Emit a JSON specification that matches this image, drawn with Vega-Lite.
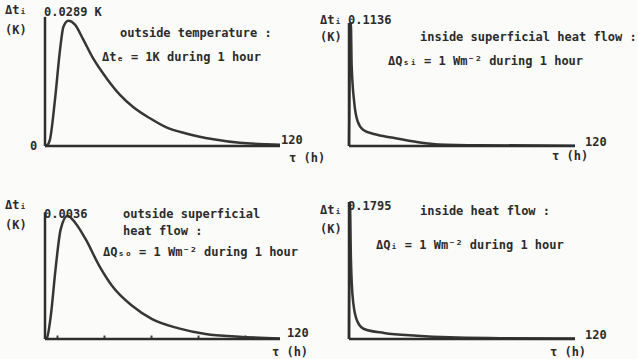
{
  "$schema": "https://vega.github.io/schema/vega-lite/v6.json",
  "padding": {"left": 5, "top": 3, "right": 0, "bottom": 0},
  "background": "#fbfbfa",
  "bounds": "flush",
  "columns": 2,
  "spacing": {"row": 56, "column": 69},
  "datasets": {
    "curves": [
      {"panel": 1, "tau": 0, "dt": 0}, {"panel": 1, "tau": 1, "dt": 0.00014}, {"panel": 1, "tau": 2.5, "dt": 0.00145},
      {"panel": 1, "tau": 5.1, "dt": 0.0107}, {"panel": 1, "tau": 7.7, "dt": 0.0223}, {"panel": 1, "tau": 9.4, "dt": 0.0275},
      {"panel": 1, "tau": 11.9, "dt": 0.0289}, {"panel": 1, "tau": 15.3, "dt": 0.028}, {"panel": 1, "tau": 19.5, "dt": 0.0246},
      {"panel": 1, "tau": 24.6, "dt": 0.0202}, {"panel": 1, "tau": 31.5, "dt": 0.0156}, {"panel": 1, "tau": 38.3, "dt": 0.0118},
      {"panel": 1, "tau": 45, "dt": 0.009}, {"panel": 1, "tau": 53.6, "dt": 0.0064}, {"panel": 1, "tau": 62, "dt": 0.0043},
      {"panel": 1, "tau": 72, "dt": 0.0029}, {"panel": 1, "tau": 86, "dt": 0.00156}, {"panel": 1, "tau": 99.5, "dt": 0.00075},
      {"panel": 1, "tau": 113, "dt": 0.0004}, {"panel": 1, "tau": 120, "dt": 0.0003},

      {"panel": 2, "tau": 0, "dt": 0}, {"panel": 2, "tau": 0.3, "dt": 0.0568}, {"panel": 2, "tau": 0.8, "dt": 0.1136},
      {"panel": 2, "tau": 1.0, "dt": 0.1136}, {"panel": 2, "tau": 1.4, "dt": 0.075}, {"panel": 2, "tau": 2.8, "dt": 0.0398},
      {"panel": 2, "tau": 4.6, "dt": 0.0227}, {"panel": 2, "tau": 7.6, "dt": 0.0148}, {"panel": 2, "tau": 13.8, "dt": 0.0108},
      {"panel": 2, "tau": 22.6, "dt": 0.0078}, {"panel": 2, "tau": 36.8, "dt": 0.0035}, {"panel": 2, "tau": 47.5, "dt": 0.0015},
      {"panel": 2, "tau": 70, "dt": 0.0007}, {"panel": 2, "tau": 120, "dt": 0.0003},

      {"panel": 3, "tau": 0, "dt": 0}, {"panel": 3, "tau": 1, "dt": 0.000036}, {"panel": 3, "tau": 2.9, "dt": 0.00065},
      {"panel": 3, "tau": 5.4, "dt": 0.00205}, {"panel": 3, "tau": 8.0, "dt": 0.0032}, {"panel": 3, "tau": 11.5, "dt": 0.0036},
      {"panel": 3, "tau": 15.6, "dt": 0.00338}, {"panel": 3, "tau": 20.7, "dt": 0.00292}, {"panel": 3, "tau": 27.5, "dt": 0.00216},
      {"panel": 3, "tau": 34.3, "dt": 0.00155}, {"panel": 3, "tau": 44.5, "dt": 0.00097}, {"panel": 3, "tau": 54.7, "dt": 0.00058},
      {"panel": 3, "tau": 68.3, "dt": 0.00031}, {"panel": 3, "tau": 82, "dt": 0.000144}, {"panel": 3, "tau": 99, "dt": 0.000065},
      {"panel": 3, "tau": 120, "dt": 0.000018},

      {"panel": 4, "tau": 0, "dt": 0}, {"panel": 4, "tau": 0.5, "dt": 0.1795}, {"panel": 4, "tau": 1.0, "dt": 0.1077},
      {"panel": 4, "tau": 1.5, "dt": 0.0718}, {"panel": 4, "tau": 2.3, "dt": 0.0467}, {"panel": 4, "tau": 4.4, "dt": 0.0233},
      {"panel": 4, "tau": 8, "dt": 0.0131}, {"panel": 4, "tau": 18.6, "dt": 0.0079}, {"panel": 4, "tau": 36, "dt": 0.0043},
      {"panel": 4, "tau": 53.6, "dt": 0.0022}, {"panel": 4, "tau": 80, "dt": 0.0011}, {"panel": 4, "tau": 120, "dt": 0.0005}
    ],
    "labels": [
      {"panel": 1, "label": "Δtᵢ", "tau": -20.4, "dt": 0.0314},
      {"panel": 1, "label": "(K)", "tau": -20.4, "dt": 0.0268},
      {"panel": 1, "label": "0.0289 K", "tau": -0.5, "dt": 0.0309},
      {"panel": 1, "label": "outside temperature :", "tau": 38.3, "dt": 0.0261},
      {"panel": 1, "label": "Δtₑ = 1K during 1 hour", "tau": 29.1, "dt": 0.0205},
      {"panel": 1, "label": "0", "tau": -7.7, "dt": 0},
      {"panel": 1, "label": "120", "tau": 120.5, "dt": 0.0014},
      {"panel": 1, "label": "τ (h)", "tau": 124.6, "dt": -0.0028},

      {"panel": 2, "label": "Δtᵢ", "tau": -15.4, "dt": 0.1166},
      {"panel": 2, "label": "(K)", "tau": -15.4, "dt": 0.1009},
      {"panel": 2, "label": "0.1136", "tau": -0.5, "dt": 0.1166},
      {"panel": 2, "label": "inside superficial heat flow :", "tau": 37.7, "dt": 0.1009},
      {"panel": 2, "label": "ΔQₛᵢ = 1 Wm⁻² during 1 hour", "tau": 20.7, "dt": 0.0781},
      {"panel": 2, "label": "120", "tau": 125.3, "dt": 0.0035},
      {"panel": 2, "label": "τ (h)", "tau": 107.8, "dt": -0.0096},

      {"panel": 3, "label": "Δtᵢ", "tau": -20.4, "dt": 0.00391},
      {"panel": 3, "label": "(K)", "tau": -20.4, "dt": 0.00334},
      {"panel": 3, "label": "0.0036", "tau": -0.5, "dt": 0.00365},
      {"panel": 3, "label": "outside superficial", "tau": 39.8, "dt": 0.00365},
      {"panel": 3, "label": "heat flow :", "tau": 39.8, "dt": 0.00314},
      {"panel": 3, "label": "ΔQₛₒ = 1 Wm⁻² during 1 hour", "tau": 29.6, "dt": 0.00254},
      {"panel": 3, "label": "120", "tau": 123.6, "dt": 0.00017},
      {"panel": 3, "label": "τ (h)", "tau": 115.9, "dt": -0.00037},

      {"panel": 4, "label": "Δtᵢ", "tau": -15.4, "dt": 0.1695},
      {"panel": 4, "label": "(K)", "tau": -15.4, "dt": 0.1445},
      {"panel": 4, "label": "0.1795", "tau": -0.5, "dt": 0.1748},
      {"panel": 4, "label": "inside heat flow :", "tau": 37.7, "dt": 0.1682},
      {"panel": 4, "label": "ΔQᵢ = 1 Wm⁻² during 1 hour", "tau": 14.3, "dt": 0.1235},
      {"panel": 4, "label": "120", "tau": 125.3, "dt": 0.0053},
      {"panel": 4, "label": "τ (h)", "tau": 106.7, "dt": -0.0171}
    ]
  },
  "concat": [
    {
      "width": 235, "height": 130,
      "layer": [
        {"data": {"name": "curves"}, "transform": [{"filter": "datum.panel == 1"}],
         "mark": {"type": "line", "strokeWidth": 2.5, "color": "#363636", "interpolate": "monotone"},
         "encoding": {"x": {"field": "tau", "type": "quantitative", "scale": {"domain": [0, 120]}, "axis": null},
                      "y": {"field": "dt", "type": "quantitative", "scale": {"domain": [0, 0.03]}, "axis": null}}},
        {"data": {"values": [{}]}, "mark": {"type": "rule", "strokeWidth": 2.5, "color": "#2e2e2e"},
         "encoding": {"x": {"datum": 0, "type": "quantitative", "axis": null}, "y": {"datum": 0, "type": "quantitative", "axis": null}, "y2": {"datum": 0.0298}}},
        {"data": {"values": [{}]}, "mark": {"type": "rule", "strokeWidth": 2.5, "color": "#2e2e2e"},
         "encoding": {"x": {"datum": 0, "type": "quantitative", "axis": null}, "x2": {"datum": 120}, "y": {"datum": 0, "type": "quantitative", "axis": null}}},
        {"data": {"name": "labels"}, "transform": [{"filter": "datum.panel == 1"}],
         "mark": {"type": "text"},
         "encoding": {"x": {"field": "tau", "type": "quantitative"}, "y": {"field": "dt", "type": "quantitative"}, "text": {"field": "label"}}}
      ]
    },
    {
      "width": 226, "height": 130,
      "layer": [
        {"data": {"name": "curves"}, "transform": [{"filter": "datum.panel == 2"}],
         "mark": {"type": "line", "strokeWidth": 2.5, "color": "#363636", "interpolate": "monotone"},
         "encoding": {"x": {"field": "tau", "type": "quantitative", "scale": {"domain": [0, 120]}, "axis": null},
                      "y": {"field": "dt", "type": "quantitative", "scale": {"domain": [0, 0.114]}, "axis": null}}},
        {"data": {"values": [{}]}, "mark": {"type": "rule", "strokeWidth": 2.5, "color": "#2e2e2e"},
         "encoding": {"x": {"datum": 0, "type": "quantitative", "axis": null}, "y": {"datum": 0, "type": "quantitative", "axis": null}, "y2": {"datum": 0.1136}}},
        {"data": {"values": [{}]}, "mark": {"type": "rule", "strokeWidth": 2.5, "color": "#2e2e2e"},
         "encoding": {"x": {"datum": 0, "type": "quantitative", "axis": null}, "x2": {"datum": 120}, "y": {"datum": 0, "type": "quantitative", "axis": null}}},
        {"data": {"name": "labels"}, "transform": [{"filter": "datum.panel == 2"}],
         "mark": {"type": "text"},
         "encoding": {"x": {"field": "tau", "type": "quantitative"}, "y": {"field": "dt", "type": "quantitative"}, "text": {"field": "label"}}}
      ]
    },
    {
      "width": 235, "height": 137,
      "layer": [
        {"data": {"name": "curves"}, "transform": [{"filter": "datum.panel == 3"}],
         "mark": {"type": "line", "strokeWidth": 2.5, "color": "#363636", "interpolate": "monotone"},
         "encoding": {"x": {"field": "tau", "type": "quantitative", "scale": {"domain": [0, 120]},
                            "axis": {"values": [6, 12, 18, 24, 30, 36, 42, 48, 54, 60, 66, 72, 78, 84, 90, 96, 102, 108], "labels": false, "domain": false, "grid": false, "title": null, "tickSize": -3, "tickWidth": 2, "tickColor": "#444", "offset": -1}},
                      "y": {"field": "dt", "type": "quantitative", "scale": {"domain": [0, 0.00391]}, "axis": null}}},
        {"data": {"values": [{}]}, "mark": {"type": "rule", "strokeWidth": 2.5, "color": "#2e2e2e"},
         "encoding": {"x": {"datum": 0, "type": "quantitative"}, "y": {"datum": 0, "type": "quantitative", "axis": null}, "y2": {"datum": 0.0037}}},
        {"data": {"values": [{}]}, "mark": {"type": "rule", "strokeWidth": 2.5, "color": "#2e2e2e"},
         "encoding": {"x": {"datum": 0, "type": "quantitative"}, "x2": {"datum": 120}, "y": {"datum": 0, "type": "quantitative", "axis": null}}},
        {"data": {"name": "labels"}, "transform": [{"filter": "datum.panel == 3"}],
         "mark": {"type": "text"},
         "encoding": {"x": {"field": "tau", "type": "quantitative"}, "y": {"field": "dt", "type": "quantitative"}, "text": {"field": "label"}}}
      ]
    },
    {
      "width": 226, "height": 137,
      "layer": [
        {"data": {"name": "curves"}, "transform": [{"filter": "datum.panel == 4"}],
         "mark": {"type": "line", "strokeWidth": 2.5, "color": "#363636", "interpolate": "monotone"},
         "encoding": {"x": {"field": "tau", "type": "quantitative", "scale": {"domain": [0, 120]}, "axis": null},
                      "y": {"field": "dt", "type": "quantitative", "scale": {"domain": [0, 0.18]}, "axis": null}}},
        {"data": {"values": [{}]}, "mark": {"type": "rule", "strokeWidth": 2.5, "color": "#2e2e2e"},
         "encoding": {"x": {"datum": 0, "type": "quantitative", "axis": null}, "y": {"datum": 0, "type": "quantitative", "axis": null}, "y2": {"datum": 0.18}}},
        {"data": {"values": [{}]}, "mark": {"type": "rule", "strokeWidth": 2.5, "color": "#2e2e2e"},
         "encoding": {"x": {"datum": 0, "type": "quantitative", "axis": null}, "x2": {"datum": 120}, "y": {"datum": 0, "type": "quantitative", "axis": null}}},
        {"data": {"name": "labels"}, "transform": [{"filter": "datum.panel == 4"}],
         "mark": {"type": "text"},
         "encoding": {"x": {"field": "tau", "type": "quantitative"}, "y": {"field": "dt", "type": "quantitative"}, "text": {"field": "label"}}}
      ]
    }
  ],
  "config": {
    "view": {"stroke": null},
    "text": {"font": "DejaVu Sans Mono", "fontWeight": "bold", "fontSize": 12, "align": "left", "baseline": "middle", "color": "#2b2b2b"}
  }
}
